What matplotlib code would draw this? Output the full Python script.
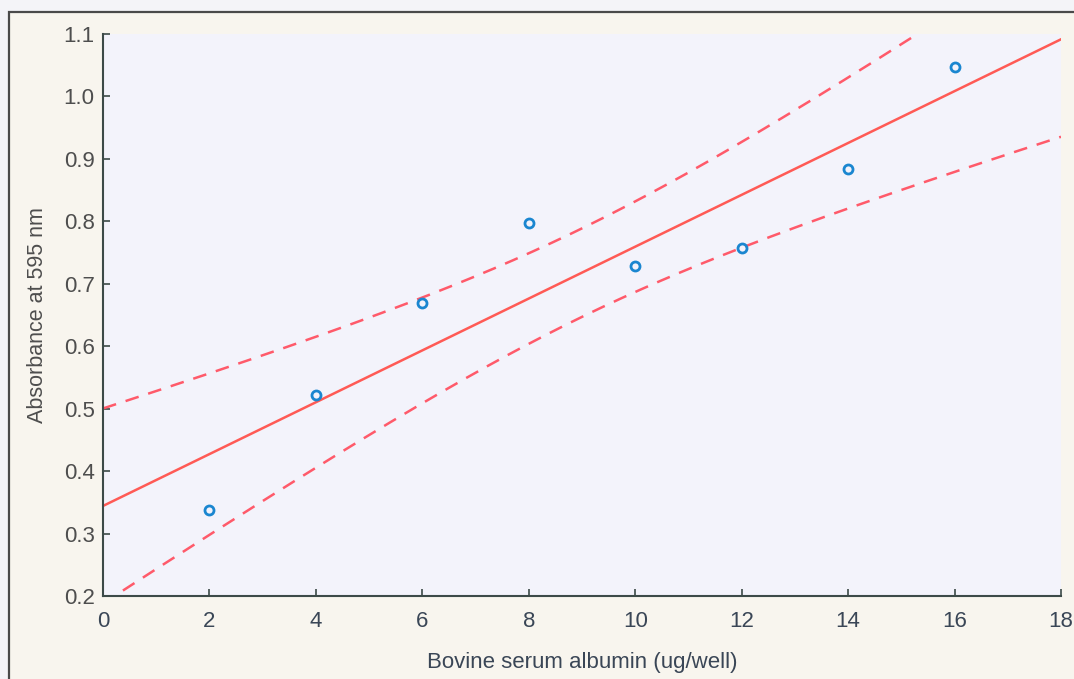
import numpy as np
import matplotlib
matplotlib.use("Agg")
import matplotlib.pyplot as plt
from matplotlib.patches import Rectangle

# Bradford standard curve: BSA amount vs absorbance
bsa_ug = [2, 4, 6, 8, 10, 12, 14, 16]
absorbance = [0.337, 0.522, 0.669, 0.798, 0.729, 0.757, 0.884, 1.047]
x_ticks = [0, 2, 4, 6, 8, 10, 12, 14, 16, 18]
y_ticks = [0.2, 0.3, 0.4, 0.5, 0.6, 0.7, 0.8, 0.9, 1.0, 1.1]
t_crit = 2.447  # t(0.975, df=6)

plt.rcParams["font.family"] = ["Liberation Sans", "DejaVu Sans"]

x = np.asarray(bsa_ug, dtype=float)
y = np.asarray(absorbance, dtype=float)
n = len(x)
slope, intercept = np.polyfit(x, y, 1)
resid = y - (slope * x + intercept)
s = np.sqrt(np.sum(resid ** 2) / (n - 2))
sxx = np.sum((x - x.mean()) ** 2)

xf = np.linspace(0, 18, 300)
yf = slope * xf + intercept
half = t_crit * s * np.sqrt(1.0 / n + (xf - x.mean()) ** 2 / sxx)

fig = plt.figure(figsize=(10.74, 6.79), dpi=100)
fig.patch.set_facecolor("#f8f5ee")
# outer panel frame
fig.patches.append(Rectangle((9 / 1074, -0.1), 1.2, 1 - 12 / 679 + 0.1,
                             transform=fig.transFigure, fill=False,
                             edgecolor="#4a4a4a", linewidth=1.6, zorder=0))
fig.patches.append(Rectangle((0, 1 - 12 / 679), 1, 12 / 679,
                             transform=fig.transFigure, facecolor="#f4f4f8",
                             edgecolor="none", zorder=-1))
fig.patches.append(Rectangle((0, 0), 9 / 1074, 1,
                             transform=fig.transFigure, facecolor="#f4f4f8",
                             edgecolor="none", zorder=-1))

ax = fig.add_axes([103 / 1074, 1 - 596 / 679, (1061 - 103) / 1074, (596 - 34) / 679])
ax.set_facecolor("#f3f3fb")

ax.plot(xf, yf, color="#ff5a55", linewidth=1.8)
ax.plot(xf, yf + half, color="#ff5a6a", linewidth=1.8, linestyle=(0, (5.5, 4)))
ax.plot(xf, yf - half, color="#ff5a6a", linewidth=1.8, linestyle=(0, (5.5, 4)))
ax.plot(x, y, linestyle="none", marker="o", markersize=6.5,
        markerfacecolor="none", markeredgecolor="#1a86d0", markeredgewidth=2)

ax.set_xlim(0, 18)
ax.set_ylim(0.2, 1.1)
ax.set_xticks(x_ticks)
ax.set_xticklabels([str(v) for v in x_ticks])
ax.set_yticks(y_ticks)
ax.set_yticklabels([f"{v:.1f}" for v in y_ticks])

for side in ("top", "right"):
    ax.spines[side].set_visible(False)
for side in ("left", "bottom"):
    ax.spines[side].set_color("#3c4a48")
    ax.spines[side].set_linewidth(1.5)
ax.tick_params(direction="in", length=5, width=1.2, color="#3c4a48", labelsize=16)
ax.tick_params(axis="x", pad=11, labelcolor="#3a4656")
ax.tick_params(axis="y", pad=6, labelcolor="#4e4e4e")

ax.set_xlabel("Bovine serum albumin (ug/well)", fontsize=16, color="#3a4656", labelpad=14)
ax.set_ylabel("Absorbance at 595 nm", fontsize=15.5, color="#4e4e4e", labelpad=11)

fig.savefig("out.png", dpi=100, facecolor=fig.get_facecolor())
